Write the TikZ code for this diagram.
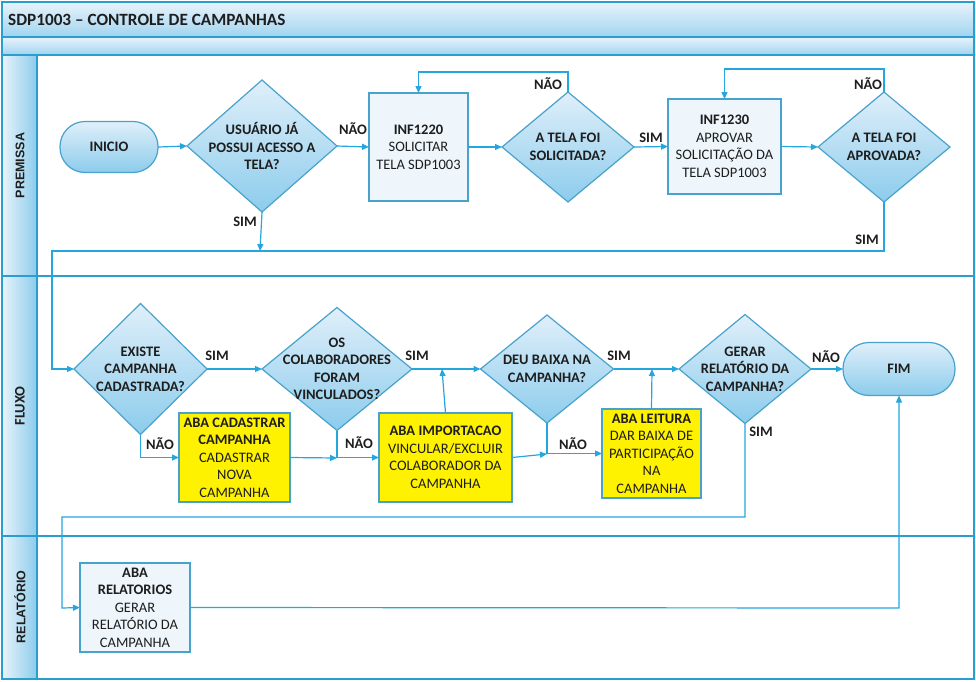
\documentclass[tikz,border=0pt]{standalone}
\usepackage{fontspec}
\setmainfont{Carlito}
\newfontfamily\arialb{Liberation Sans}
\usetikzlibrary{shapes.geometric,arrows.meta,calc}
\definecolor{linec}{RGB}{38,166,222}
\definecolor{shapeb}{RGB}{72,162,204}
\definecolor{laneb}{RGB}{42,158,206}
\definecolor{gradt}{RGB}{224,239,250}
\definecolor{gradb}{RGB}{140,204,236}
\definecolor{bart}{RGB}{232,243,251}
\definecolor{barb}{RGB}{160,212,240}
\definecolor{boxfill}{RGB}{238,246,251}
\definecolor{txt}{RGB}{30,30,30}
\begin{document}
\begin{tikzpicture}[x=1pt,y=-1pt,
  font=\fontsize{14.5}{17.5}\selectfont,
  dia/.style={diamond, draw=shapeb, line width=1.2pt, top color=gradt, bottom color=gradb, inner sep=0pt, outer sep=0pt},
  dtext/.style={align=center, font=\fontsize{14.5}{17.5}\selectfont\bfseries, inner sep=0pt, text=txt},
  stad/.style={rectangle, rounded corners=25pt, draw=shapeb, line width=1.2pt, top color=gradt, bottom color=gradb, minimum width=98pt, minimum height=51pt, inner sep=0pt, outer sep=0pt, font=\fontsize{14.5}{17.5}\selectfont\bfseries, text=txt},
  infbox/.style={draw=shapeb, line width=1.8pt, fill=boxfill, align=center, inner sep=0pt, outer sep=0pt, text=txt},
  ybox/.style={draw=shapeb, line width=1.3pt, fill=yellow, align=center, inner sep=0pt, outer sep=0pt, text=txt},
  arr/.style={draw=linec, line width=1.2pt, -{Triangle[length=7pt,width=6pt]}},
  ln/.style={draw=linec, line width=1.2pt},
  lbl/.style={font=\fontsize{14.5}{17.5}\selectfont\bfseries, inner sep=0pt, text=txt},
  lanelbl/.style={rotate=90, inner sep=0pt, text=txt}
]
\useasboundingbox (0,0) rectangle (976,681);
% frame and lanes
\shade[top color=bart, bottom color=barb] (2,2) rectangle (974,37);
\shade[top color=bart, bottom color=barb] (2,37) rectangle (974,55);
\shade[left color=bart, right color=gradb] (2,55) rectangle (37,679);
\draw[laneb, line width=2pt] (2,2) rectangle (974,679);
\draw[laneb, line width=2pt] (2,37) -- (974,37);
\draw[laneb, line width=2pt] (2,55) -- (974,55);
\draw[laneb, line width=2pt] (2,276) -- (974,276);
\draw[laneb, line width=2pt] (2,536) -- (974,536);
\draw[laneb, line width=2pt] (37,55) -- (37,679);
\node[anchor=west, inner sep=0pt, font=\fontsize{17.2}{20}\selectfont\bfseries, text=txt] (title) at (8,19.5) {SDP1003 – CONTROLE DE CAMPANHAS};
\node[lanelbl, font=\arialb\fontsize{12.5}{15}\selectfont\bfseries] (l1) at (20,165.5) {PREMISSA};
\node[lanelbl, font=\fontsize{14.5}{17}\selectfont\bfseries] (l2) at (20,406) {FLUXO};
\node[lanelbl, font=\arialb\fontsize{12.5}{15}\selectfont\bfseries] (l3) at (20,607) {RELATÓRIO};

% PREMISSA nodes
\node[stad] (inicio) at (109,147) {INICIO};
\node[dia, minimum width=150pt, minimum height=132pt] (d1) at (262,146) {};
\node[dtext] (t1) at (262,146) {USUÁRIO JÁ\\POSSUI ACESSO A\\TELA?};
\node[infbox, minimum width=99pt, minimum height=108pt] (b1) at (418.5,147) {\textbf{INF1220}\\SOLICITAR\\TELA SDP1003};
\node[dia, minimum width=132pt, minimum height=110pt] (d2) at (568,147) {};
\node[dtext] (t2) at (568,147) {A TELA FOI\\SOLICITADA?};
\node[infbox, minimum width=113pt, minimum height=95pt] (b2) at (724.5,146.5) {\textbf{INF1230}\\APROVAR\\SOLICITAÇÃO DA\\TELA SDP1003};
\node[dia, minimum width=132pt, minimum height=110pt] (d3) at (884,147) {};
\node[dtext] (t3) at (884,147) {A TELA FOI\\APROVADA?};

% FLUXO nodes
\node[dia, minimum width=133pt, minimum height=131pt] (d4) at (140.5,369) {};
\node[dtext] (t4) at (140.5,369) {EXISTE\\CAMPANHA\\CADASTRADA?};
\node[dia, minimum width=150pt, minimum height=123pt] (d5) at (337,369) {};
\node[dtext] (t5) at (337,369) {OS\\COLABORADORES\\FORAM\\VINCULADOS?};
\node[dia, minimum width=133pt, minimum height=108pt] (d6) at (547,369) {};
\node[dtext] (t6) at (547,369) {DEU BAIXA NA\\CAMPANHA?};
\node[dia, minimum width=132pt, minimum height=109pt] (d7) at (745,369) {};
\node[dtext] (t7) at (745,369) {GERAR\\RELATÓRIO DA\\CAMPANHA?};
\node[stad, minimum width=112pt, minimum height=53pt, rounded corners=26pt] (fim) at (899,369) {FIM};
\node[ybox, minimum width=111pt, minimum height=89pt] (ba) at (234.5,457.5) {\textbf{ABA CADASTRAR}\\\textbf{CAMPANHA}\\CADASTRAR\\NOVA\\CAMPANHA};
\node[ybox, minimum width=133pt, minimum height=89pt] (bb) at (445.5,457.5) {\textbf{ABA IMPORTACAO}\\VINCULAR/EXCLUIR\\COLABORADOR DA\\CAMPANHA};
\node[ybox, minimum width=99pt, minimum height=89pt] (bc) at (651.5,453.5) {\textbf{ABA LEITURA}\\DAR BAIXA DE\\PARTICIPAÇÃO\\NA\\CAMPANHA};

% RELATORIO node
\node[infbox, line width=1.2pt, minimum width=110pt, minimum height=89pt] (bd) at (135,607.5) {\textbf{ABA}\\\textbf{RELATORIOS}\\GERAR\\RELATÓRIO DA\\CAMPANHA};

% junction coordinates
\coordinate (j1) at (260,251);
\coordinate (y72) at (0,72);
\coordinate (y69) at (0,69);
\coordinate (c1) at (884,251);
\coordinate (c2) at (52,251);
\coordinate (c3) at (52,369);
\coordinate (j2) at (337,458);
\coordinate (j3) at (442,369);
\coordinate (j4) at (547,454);
\coordinate (j5) at (652,369);
\coordinate (c4) at (745,517);
\coordinate (c5) at (62,517);
\coordinate (c6) at (62,608);
\coordinate (c7) at (899,608);

% PREMISSA connectors
\draw[arr] (inicio.east) -- (d1.west);
\draw[arr] (d1.east) -- (b1.west);
\draw[arr] (d1.south) -- (j1);
\draw[arr] (b1.east) -- (d2.west);
\draw[arr] (d2.north) -- (d2.north |- y72) -| (b1.north);
\draw[arr] (d2.east) -- (b2.west);
\draw[arr] (b2.east) -- (d3.west);
\draw[arr] (d3.north) -- (d3.north |- y69) -| (b2.north);
\draw[arr] (d3.south) -- (c1) -- (c2) -- (c3) -- (d4.west);

% FLUXO connectors
\draw[arr] (d4.east) -- (d5.west);
\draw[arr] (d4.south) |- (ba.west);
\draw[arr] (ba.east) -- (j2);
\draw[arr] (d5.south) |- (bb.west);
\draw[arr] (d5.east) -- (d6.west);
\draw[arr] (bb.north) -- (j3);
\draw[arr] (bb.east) -- (j4);
\draw[arr] (d6.south) |- (bc.west);
\draw[arr] (d6.east) -- (d7.west);
\draw[arr] (bc.north) -- (j5);
\draw[arr] (d7.east) -- (fim.west);
\draw[arr] (d7.south) -- (c4) -- (c5) -- (c6) -- (bd.west);
\draw[arr] (bd.east) -- (c7) -- (fim.south);

% connector labels
\node[lbl] (n1) at (353,129) {NÃO};
\node[lbl] (s1) at (245,222) {SIM};
\node[lbl] (n2) at (548,84) {NÃO};
\node[lbl] (s2) at (651,138) {SIM};
\node[lbl] (n3) at (868,84) {NÃO};
\node[lbl] (s3) at (867,240) {SIM};
\node[lbl] (s4) at (217,356) {SIM};
\node[lbl] (n4) at (160,444) {NÃO};
\node[lbl] (n5) at (359,443) {NÃO};
\node[lbl] (s5) at (417,356) {SIM};
\node[lbl] (s6) at (619,356) {SIM};
\node[lbl] (n6) at (573,444) {NÃO};
\node[lbl] (n7) at (826,357) {NÃO};
\node[lbl] (s7) at (761,432) {SIM};
\end{tikzpicture}
\end{document}
